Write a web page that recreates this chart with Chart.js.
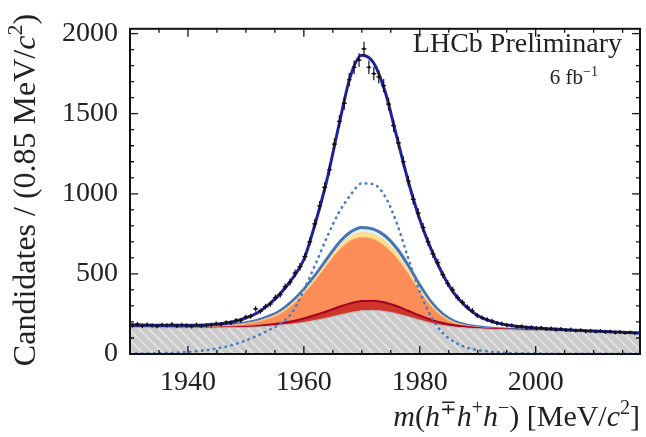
<!DOCTYPE html>
<html>
<head>
<meta charset="utf-8">
<script src="https://cdn.jsdelivr.net/npm/chart.js@4.4.1/dist/chart.umd.min.js"></script>
<style>
html, body { margin: 0; padding: 0; background: #fff; }
</style>
</head>
<body>
<canvas id="canvas" width="646" height="437"></canvas>
<script>
// binning of the data histogram
var binLow = 1930;
var binWidth = 0.85;

// candidates per bin (data points)
var counts = [
  178,186,176,183,179,174,182,178,185,175,181,177,172,183,176,179,
  181,189,186,197,195,210,209,230,236,282,268,296,
  312,352,370,420,448,505,545,608,700,812,925,1040,1150,1310,1452,1565,1712,1790,
  1835,1905,1790,1750,1730,1675,1560,1425,1318,1200,1080,965,880,790,700,
  625,570,495,440,400,352,322,292,270,240,226,215,205,192,189,180,178,170,172,164,
  166,160,163,156,159,152,156,150,153,146,149,142,145,139,143,136,140,133,137,131,135,129
];

// fit curves, sampled on this mass grid
var curveMass = [1930,1932,1934,1936,1938,1940,1942,1944,1946,1948,1950,1952,1954,1956,1958,1960,
  1962,1964,1966,1968,1970,1972,1974,1976,1978,1980,1982,1984,1986,1988,1990,1992,1994,1996,1998,
  2000,2002,2004,2006,2008,2010,2012,2014,2016,2018];

// stacked components (cumulative tops)
var grayTop = [165,165,164,164,163,163,163,163,164,165,166,169,174,180,187,197,
  210,225,242,258,270,272,266,252,233,212,192,178,168,162,158,155,153,151,149,
  147,145,143,141,139,137,135,133,131,129];
var redTop = [165,165,164,164,163,163,163,164,165,167,170,175,182,192,205,222,
  243,267,293,316,331,333,322,300,270,240,213,194,180,170,163,158,155,152,150,
  147,145,143,141,139,137,135,133,131,129];
var orangeTop = [165,165,164,164,163,164,165,168,172,178,187,200,220,252,305,375,
  460,555,645,705,727,716,672,600,500,390,295,230,193,176,166,160,156,152,150,
  147,145,143,141,139,137,135,133,131,129];
var yellowTop = [165,165,164,164,163,164,165,169,174,181,191,205,228,262,317,390,
  477,575,668,732,757,747,704,630,526,410,309,239,198,179,168,161,156,152,150,
  147,145,143,141,139,137,135,133,131,129];
var blueTop = [165,165,164,164,163,164,166,170,176,184,195,211,236,272,330,405,
  495,595,692,760,790,780,738,662,554,430,323,248,203,182,170,162,157,153,150,
  147,145,143,141,139,137,135,133,131,129];

// signal shape (dotted, not stacked)
var signalCurve = [2,3,4,6,9,13,19,28,42,60,85,115,150,190,260,400,
  560,730,880,990,1065,1060,985,820,600,390,230,130,75,42,25,15,9,6,4,
  3,2,2,1,1,1,1,1,1,1];

// total fit
var totalFit = [182,181,180,179,179,179,180,184,190,203,225,258,310,380,470,590,
  820,1090,1420,1730,1865,1820,1640,1360,1080,840,650,495,375,295,240,208,188,176,169,
  163,158,154,150,146,143,140,137,134,131];

// axes
var xMin = 1930, xMax = 2018;
var yMin = 0, yMax = 2030;
var xTickVals = [1940, 1960, 1980, 2000];
var yTickVals = [0, 500, 1000, 1500, 2000];

var serif = '"Liberation Serif", "DejaVu Serif", serif';

function toPoints(ys) {
    return curveMass.map(function(m, i) { return {x: m, y: ys[i]}; });
}

var binCenters = counts.map(function(c, i) { return binLow + (i + 0.5) * binWidth; });
var dataPoints = counts.map(function(c, i) { return {x: binCenters[i], y: c}; });

// hatch for the grey background
function makeHatch() {
    var c = document.createElement('canvas');
    c.width = 10; c.height = 10;
    var g = c.getContext('2d');
    g.fillStyle = '#cbcbcb';
    g.fillRect(0, 0, 10, 10);
    g.strokeStyle = '#e4e4e4';
    g.lineWidth = 1.6;
    g.beginPath();
    g.moveTo(-2, -2); g.lineTo(12, 12);
    g.moveTo(-2, 8); g.lineTo(2, 12);
    g.moveTo(8, -2); g.lineTo(12, 2);
    g.stroke();
    return g.createPattern(c, 'repeat');
}

function segFont(s, size) {
    var sz = s.sup ? Math.round(size * 0.68) : size;
    return (s.it ? 'italic ' : '') + sz + 'px ' + serif;
}
function richWidth(ctx, segs, size) {
    var w = 0;
    segs.forEach(function(s) { ctx.font = segFont(s, size); w += ctx.measureText(s.t).width; });
    return w;
}
function drawRich(ctx, segs, x, y, size) {
    ctx.textAlign = 'left';
    ctx.textBaseline = 'alphabetic';
    segs.forEach(function(s) {
        ctx.font = segFont(s, size);
        ctx.fillText(s.t, x, y + (s.sup ? -size * 0.4 : 0));
        x += ctx.measureText(s.t).width;
    });
}

var xTitle = [
    {t: 'm', it: true}, {t: '('}, {t: 'h', it: true}, {t: '\u2213', sup: true},
    {t: 'h', it: true}, {t: '+', sup: true}, {t: 'h', it: true}, {t: '\u2212', sup: true},
    {t: ') [MeV/'}, {t: 'c', it: true}, {t: '2', sup: true}, {t: ']'}
];
var yTitle = [
    {t: 'Candidates / (0.85 MeV/'}, {t: 'c', it: true}, {t: '2', sup: true}, {t: ')'}
];

var decor = {
    id: 'decor',
    afterDatasetsDraw: function(chart) {
        var ctx = chart.ctx, xs = chart.scales.x, ys = chart.scales.y, a = chart.chartArea;
        ctx.save();
        ctx.beginPath();
        ctx.rect(a.left, a.top, a.right - a.left, a.bottom - a.top);
        ctx.clip();
        ctx.strokeStyle = '#111';
        ctx.lineWidth = 1.2;
        ctx.beginPath();
        for (var i = 0; i < counts.length; i++) {
            var e = Math.sqrt(counts[i]);
            var px = xs.getPixelForValue(binCenters[i]);
            var py = ys.getPixelForValue(counts[i]);
            ctx.moveTo(px, ys.getPixelForValue(counts[i] + e));
            ctx.lineTo(px, ys.getPixelForValue(counts[i] - e));
            ctx.moveTo(xs.getPixelForValue(binCenters[i] - binWidth / 2), py);
            ctx.lineTo(xs.getPixelForValue(binCenters[i] + binWidth / 2), py);
        }
        ctx.stroke();
        ctx.restore();
    },
    afterDraw: function(chart) {
        var ctx = chart.ctx, xs = chart.scales.x, ys = chart.scales.y, a = chart.chartArea;
        ctx.save();
        ctx.strokeStyle = '#111';
        ctx.lineWidth = 2;
        ctx.strokeRect(a.left, a.top, a.right - a.left, a.bottom - a.top);

        // inward ticks on all four sides
        ctx.lineWidth = 1.3;
        ctx.beginPath();
        var v, p, len;
        for (v = 1935; v < xMax; v += 5) {
            p = xs.getPixelForValue(v);
            len = (v % 20 === 0) ? 8 : 4;
            ctx.moveTo(p, a.bottom); ctx.lineTo(p, a.bottom - len);
            ctx.moveTo(p, a.top); ctx.lineTo(p, a.top + len);
        }
        for (v = 100; v < yMax; v += 100) {
            p = ys.getPixelForValue(v);
            len = (v % 500 === 0) ? 8 : 4;
            ctx.moveTo(a.left, p); ctx.lineTo(a.left + len, p);
            ctx.moveTo(a.right, p); ctx.lineTo(a.right - len, p);
        }
        ctx.stroke();

        ctx.fillStyle = '#222';
        // x title
        var size = 30;
        var w = richWidth(ctx, xTitle, size);
        drawRich(ctx, xTitle, a.right - w, 426, size);
        // y title
        ctx.save();
        ctx.translate(25, 190);
        ctx.rotate(-Math.PI / 2);
        w = richWidth(ctx, yTitle, 32);
        drawRich(ctx, yTitle, -w / 2, 10, 32);
        ctx.restore();
        // label
        ctx.font = '28px ' + serif;
        ctx.textAlign = 'right';
        ctx.fillText('LHCb Preliminary', 622, 52);
        var lum = [{t: '6 fb'}, {t: '\u22121', sup: true}];
        w = richWidth(ctx, lum, 21);
        drawRich(ctx, lum, 598 - w, 84, 21);
        ctx.restore();
    }
};

var ctx = document.getElementById('canvas').getContext('2d');
var hatch = makeHatch();

var lineBase = {
    type: 'line',
    pointRadius: 0,
    cubicInterpolationMode: 'monotone',
    order: 5
};

function plainLabel(v) { return String(v); }

new Chart(ctx, {
    type: 'line',
    data: {
        datasets: [
            Object.assign({}, lineBase, {label: 'bkg', data: toPoints(grayTop), fill: 'origin',
                backgroundColor: hatch, borderColor: '#b5b5b5', borderWidth: 1}),
            Object.assign({}, lineBase, {label: 'red', data: toPoints(redTop), fill: 0,
                backgroundColor: '#d0352a', borderColor: '#a50026', borderWidth: 2}),
            Object.assign({}, lineBase, {label: 'orange', data: toPoints(orangeTop), fill: 1,
                backgroundColor: '#fc8d59', borderColor: '#f9a070', borderWidth: 1}),
            Object.assign({}, lineBase, {label: 'yellow', data: toPoints(yellowTop), fill: 2,
                backgroundColor: '#fee090', borderColor: '#fdd58a', borderWidth: 1}),
            Object.assign({}, lineBase, {label: 'blue', data: toPoints(blueTop), fill: 3,
                backgroundColor: '#e0f3f8', borderColor: '#4575b4', borderWidth: 3}),
            Object.assign({}, lineBase, {label: 'signal', data: toPoints(signalCurve), fill: false,
                borderColor: '#4a7cc0', borderWidth: 2.6, borderDash: [0.5, 5.5], borderCapStyle: 'round', order: 3}),
            Object.assign({}, lineBase, {label: 'total', data: toPoints(totalFit), fill: false,
                borderColor: '#20209a', borderWidth: 3, order: 2}),
            {type: 'scatter', label: 'data', data: dataPoints, pointRadius: 1.3,
                pointBackgroundColor: '#111', pointBorderWidth: 0, order: 1}
        ]
    },
    options: {
        responsive: false,
        animation: false,
        devicePixelRatio: 1,
        layout: {padding: {top: 12, right: 6, left: 0, bottom: 0}},
        plugins: {legend: {display: false}, tooltip: {enabled: false}},
        scales: {
            x: {
                type: 'linear', min: xMin, max: xMax,
                grid: {display: false, drawTicks: false},
                border: {display: false},
                afterBuildTicks: function(axis) { axis.ticks = xTickVals.map(function(v) { return {value: v}; }); },
                afterFit: function(axis) { axis.height = 83; },
                ticks: {font: {family: serif, size: 28}, color: '#222', padding: 12, maxRotation: 0,
                    callback: plainLabel}
            },
            y: {
                type: 'linear', min: yMin, max: yMax,
                grid: {display: false, drawTicks: false},
                border: {display: false},
                afterBuildTicks: function(axis) { axis.ticks = yTickVals.map(function(v) { return {value: v}; }); },
                afterFit: function(axis) { axis.width = 130; },
                ticks: {font: {family: serif, size: 28}, color: '#222', padding: 12, callback: plainLabel}
            }
        }
    },
    plugins: [decor]
});
</script>
</body>
</html>
